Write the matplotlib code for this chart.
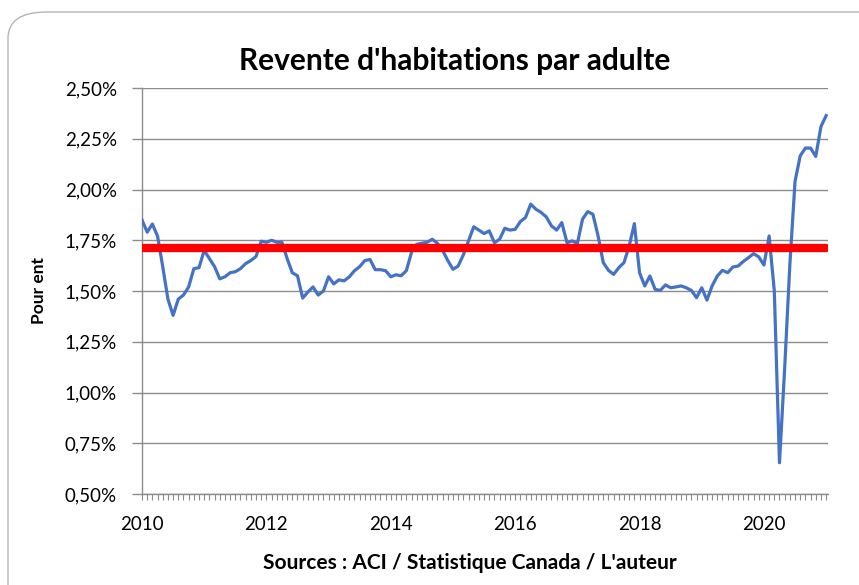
import matplotlib
matplotlib.use('Agg')
import matplotlib.pyplot as plt
import matplotlib.ticker as mticker
from matplotlib.patches import FancyBboxPatch
import numpy as np

plt.rcParams['font.family'] = ['Lato', 'DejaVu Sans']

# Monthly resale per adult (%), Jan 2010 .. Jan 2021
start_year = 2010
resale_pct = [
    1.85, 1.79, 1.83, 1.77, 1.62, 1.46, 1.38, 1.46, 1.48, 1.52, 1.61, 1.615,   # 2010
    1.70, 1.66, 1.62, 1.56, 1.57, 1.59, 1.595, 1.61, 1.635, 1.65, 1.67, 1.745,  # 2011
    1.74, 1.75, 1.74, 1.74, 1.66, 1.59, 1.575, 1.465, 1.495, 1.52, 1.48, 1.50,  # 2012
    1.57, 1.535, 1.555, 1.55, 1.57, 1.60, 1.62, 1.65, 1.655, 1.605, 1.605, 1.60,  # 2013
    1.57, 1.58, 1.575, 1.60, 1.69, 1.73, 1.735, 1.74, 1.755, 1.735, 1.70, 1.65,  # 2014
    1.607, 1.623, 1.678, 1.747, 1.816, 1.80, 1.783, 1.796, 1.738, 1.755, 1.809, 1.80,  # 2015
    1.804, 1.842, 1.862, 1.928, 1.903, 1.887, 1.865, 1.821, 1.80, 1.837, 1.738, 1.747,  # 2016
    1.734, 1.854, 1.891, 1.878, 1.771, 1.640, 1.602, 1.582, 1.615, 1.640, 1.722, 1.832,  # 2017
    1.590, 1.525, 1.574, 1.508, 1.503, 1.530, 1.516, 1.520, 1.525, 1.516, 1.503, 1.467,  # 2018
    1.516, 1.455, 1.525, 1.574, 1.602, 1.590, 1.618, 1.623, 1.645, 1.664, 1.684, 1.668,  # 2019
    1.628, 1.771, 1.50, 0.654, 1.12, 1.63, 2.04, 2.166, 2.204, 2.204, 2.163, 2.31,  # 2020
    2.364,  # 2021
]
average_pct = 1.71

year_ticks = [2010, 2012, 2014, 2016, 2018, 2020]
y_ticks = [0.50, 0.75, 1.00, 1.25, 1.50, 1.75, 2.00, 2.25, 2.50]

dates = start_year + np.arange(len(resale_pct)) / 12.0

W, H = 859, 585
fig = plt.figure(figsize=(W / 100, H / 100), dpi=100)
fig.patch.set_facecolor('white')

# chart border (rounded, cropped on the right / bottom)
border = FancyBboxPatch((8 / W, -0.05), 1.2, (H - 12) / H + 0.05,
                        boxstyle='round,pad=0,rounding_size=0.045',
                        transform=fig.transFigure, facecolor='none',
                        edgecolor='#b4b4b4', linewidth=1.0, zorder=0)
fig.patches.append(border)

ax = fig.add_axes([142 / W, 1 - 494 / H, (828 - 142) / W, (494 - 88) / H])
ax.set_facecolor('none')

ax.plot(dates, resale_pct, color='#4472C4', linewidth=2.3, zorder=3)
ax.plot([dates[0], dates[-1]], [average_pct, average_pct], color='#FF0000',
        linewidth=6.0, solid_capstyle='round', zorder=4)

ax.set_xlim(2010, 2021.03)
ax.set_ylim(0.5, 2.5)
ax.set_yticks(y_ticks)
ax.yaxis.set_major_formatter(mticker.FuncFormatter(lambda v, p: f'{v:.2f}'.replace('.', ',') + '%'))
ax.set_xticks(year_ticks)
ax.set_xticklabels([str(y) for y in year_ticks])
ax.xaxis.set_minor_locator(mticker.MultipleLocator(1 / 12))

ax.grid(True, axis='y', color='#8c8c8c', linewidth=1.0)
ax.set_axisbelow(True)
for s in ['top', 'right']:
    ax.spines[s].set_visible(False)
for s in ['left', 'bottom']:
    ax.spines[s].set_color('#8c8c8c')
    ax.spines[s].set_linewidth(1.0)

ax.tick_params(axis='y', length=7, width=1, color='#8c8c8c', pad=11, labelsize=13.5, labelcolor='#000000')
ax.tick_params(axis='x', which='major', length=4, width=0.8, color='#8c8c8c', pad=12, labelsize=13.5)
ax.tick_params(axis='x', which='minor', length=4, width=0.8, color='#8c8c8c')

fig.text(455 / W, 1 - 61 / H, "Revente d'habitations par adulte", ha='center', va='center',
         fontsize=21.5, fontweight='bold')
fig.text(39 / W, 1 - 290 / H, 'Pour ent', ha='center', va='center', rotation=90,
         fontsize=12.5, fontweight='bold')
fig.text(470 / W, 1 - 563 / H, "Sources : ACI / Statistique Canada / L'auteur", ha='center', va='center',
         fontsize=15, fontweight='bold')

fig.savefig('out.png', dpi=100)
